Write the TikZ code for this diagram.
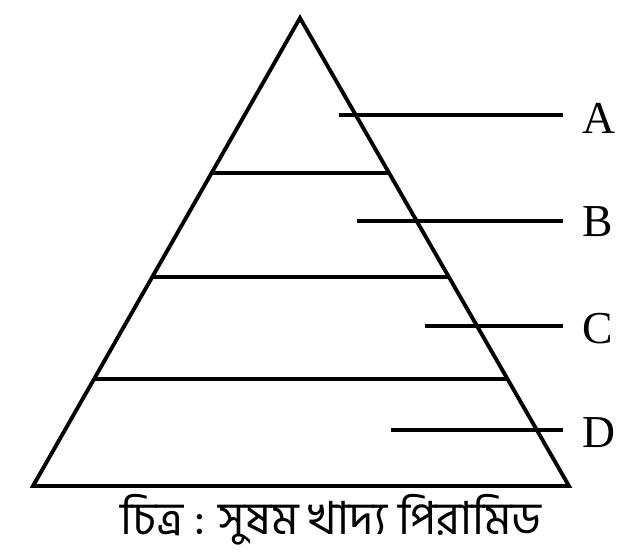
\documentclass[tikz,border=0pt]{standalone}
\usepackage{fontspec}
\setmainfont{Liberation Serif}
\newfontfamily\bnfont[Script=Bengali]{Hind Siliguri}
\usetikzlibrary{calc}
\begin{document}
\begin{tikzpicture}[x=0.02cm,y=-0.02cm,line width=2.2pt,
	lbl/.style={font=\fontsize{26}{26}\selectfont,anchor=west,inner xsep=10pt,inner ysep=0pt}]
		\useasboundingbox (0,0) rectangle (643,559);
		\coordinate (apex) at (300,18);
		\coordinate (bl) at (33,486);
		\coordinate (br) at (569,486);
		\draw (apex) -- (bl) -- (br) -- cycle;
		\foreach \t in {0.331,0.553,0.771}
			\draw ($(apex)!\t!(bl)$) -- ($(apex)!\t!(br)$);
		\node[lbl] (lA) at (563,118) {A};
		\node[lbl] (lB) at (563,222) {B};
		\node[lbl] (lC) at (563,329) {C};
		\node[lbl] (lD) at (563,433) {D};
		\coordinate (pA) at (339,115);
		\coordinate (pB) at (357,221);
		\coordinate (pC) at (425,326);
		\coordinate (pD) at (391,430);
		\foreach \n in {A,B,C,D}
			\draw (p\n) -- (p\n -| l\n.west);
		\node[font=\bnfont\fontsize{26}{26}\selectfont] (cap) at (331,520) {চিত্র : সুষম খাদ্য পিরামিড};
\end{tikzpicture}
\end{document}
